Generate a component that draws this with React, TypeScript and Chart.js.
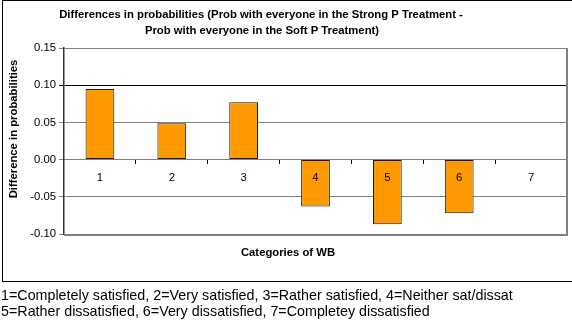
import React, { useEffect, useRef } from "react";
import { Chart, registerables } from "chart.js";

Chart.register(...registerables);

// Well-being categories and the difference in predicted probability for each
const categories = ["1", "2", "3", "4", "5", "6", "7"];
const differences = [0.095, 0.049, 0.077, -0.063, -0.087, -0.072, 0];

const yMin = -0.1;
const yMax = 0.15;
const yStep = 0.05;

const titleLines = [
  "Differences in probabilities (Prob with everyone in the Strong P Treatment -",
  "Prob with everyone in the Soft P Treatment)",
];
const yAxisTitle = "Difference in probabilities";
const xAxisTitle = "Categories of WB";
const footnoteLines = [
  "1=Completely satisfied, 2=Very satisfied, 3=Rather satisfied, 4=Neither sat/dissat",
  "5=Rather dissatisfied, 6=Very dissatisfied, 7=Completey dissatisfied",
];

const FONT = '"Liberation Sans", Arial, Helvetica, sans-serif';

const decorations = {
  id: "decorations",
  beforeDraw(chart: any) {
    const { ctx, width, height } = chart;
    ctx.save();
    ctx.fillStyle = "#ffffff";
    ctx.fillRect(0, 0, width, height);
    ctx.restore();
  },
  afterDraw(chart: any) {
    const { ctx, chartArea: a } = chart;
    ctx.save();

    // outer chart frame
    ctx.strokeStyle = "#000000";
    ctx.lineWidth = 1;
    ctx.strokeRect(2.5, 0.5, 572, 281);

    // right and bottom edges of the plot box
    ctx.strokeStyle = "#808080";
    ctx.lineWidth = 2;
    ctx.beginPath();
    ctx.moveTo(Math.round(a.right), a.top);
    ctx.lineTo(Math.round(a.right), a.bottom + 1);
    ctx.lineTo(a.left, a.bottom + 1);
    ctx.stroke();

    ctx.fillStyle = "#000000";
    ctx.textAlign = "center";
    ctx.textBaseline = "middle";
    ctx.font = `bold 11.3px ${FONT}`;
    ctx.fillText(titleLines[0], 261, 15);
    ctx.fillText(titleLines[1], 262, 31);
    ctx.fillText(xAxisTitle, 288, 253);

    ctx.save();
    ctx.translate(14, 129);
    ctx.rotate(-Math.PI / 2);
    ctx.fillText(yAxisTitle, 0, 0);
    ctx.restore();

    ctx.textAlign = "left";
    ctx.font = `14.3px ${FONT}`;
    ctx.fillText(footnoteLines[0], 1, 296);
    ctx.fillText(footnoteLines[1], 1, 312);

    ctx.restore();
  },
};

export default function App() {
  const canvasRef = useRef<HTMLCanvasElement | null>(null);

  useEffect(() => {
    document.body.style.margin = "0";
    const canvas = canvasRef.current;
    if (!canvas) return;

    const chart = new Chart(canvas, {
      type: "bar",
      data: {
        labels: categories,
        datasets: [
          {
            data: differences,
            backgroundColor: "#FF9900",
            borderColor: "#1a1a1a",
            borderWidth: 1,
            borderSkipped: false,
            barPercentage: 0.4,
            categoryPercentage: 1,
          },
        ],
      },
      options: {
        responsive: false,
        animation: false,
        devicePixelRatio: 1,
        layout: { padding: { top: 48, bottom: 94, right: 5, left: 0 } },
        plugins: {
          legend: { display: false },
          title: { display: false },
          tooltip: { enabled: false },
        },
        scales: {
          x: {
            type: "category",
            position: { y: 0 } as any,
            grid: {
              offset: true,
              drawOnChartArea: false,
              drawTicks: true,
              tickLength: 4,
              color: "#000000",
            },
            border: { display: true, color: "#808080", width: 1 },
            ticks: {
              z: 1,
              color: "#000000",
              font: { family: FONT, size: 11.3 },
              padding: 8,
              maxRotation: 0,
            },
          },
          y: {
            min: yMin,
            max: yMax,
            afterFit(scale: any) {
              scale.width = 64;
            },
            ticks: {
              stepSize: yStep,
              color: "#000000",
              font: { family: FONT, size: 11.3 },
              padding: 3,
              callback: (v: any) => Number(v).toFixed(2),
            },
            grid: {
              tickLength: 5,
              color: (ctx: any) =>
                ctx.tick && Math.abs(ctx.tick.value - 0.1) < 1e-9 ? "#000000" : "#808080",
            },
            border: { display: true, color: "#333333", width: 1.5 },
          },
        },
      },
      plugins: [decorations],
    });

    return () => chart.destroy();
  }, []);

  return (
    <div style={{ width: 572, height: 328 }}>
      <canvas ref={canvasRef} width={572} height={328} style={{ display: "block" }} />
    </div>
  );
}
